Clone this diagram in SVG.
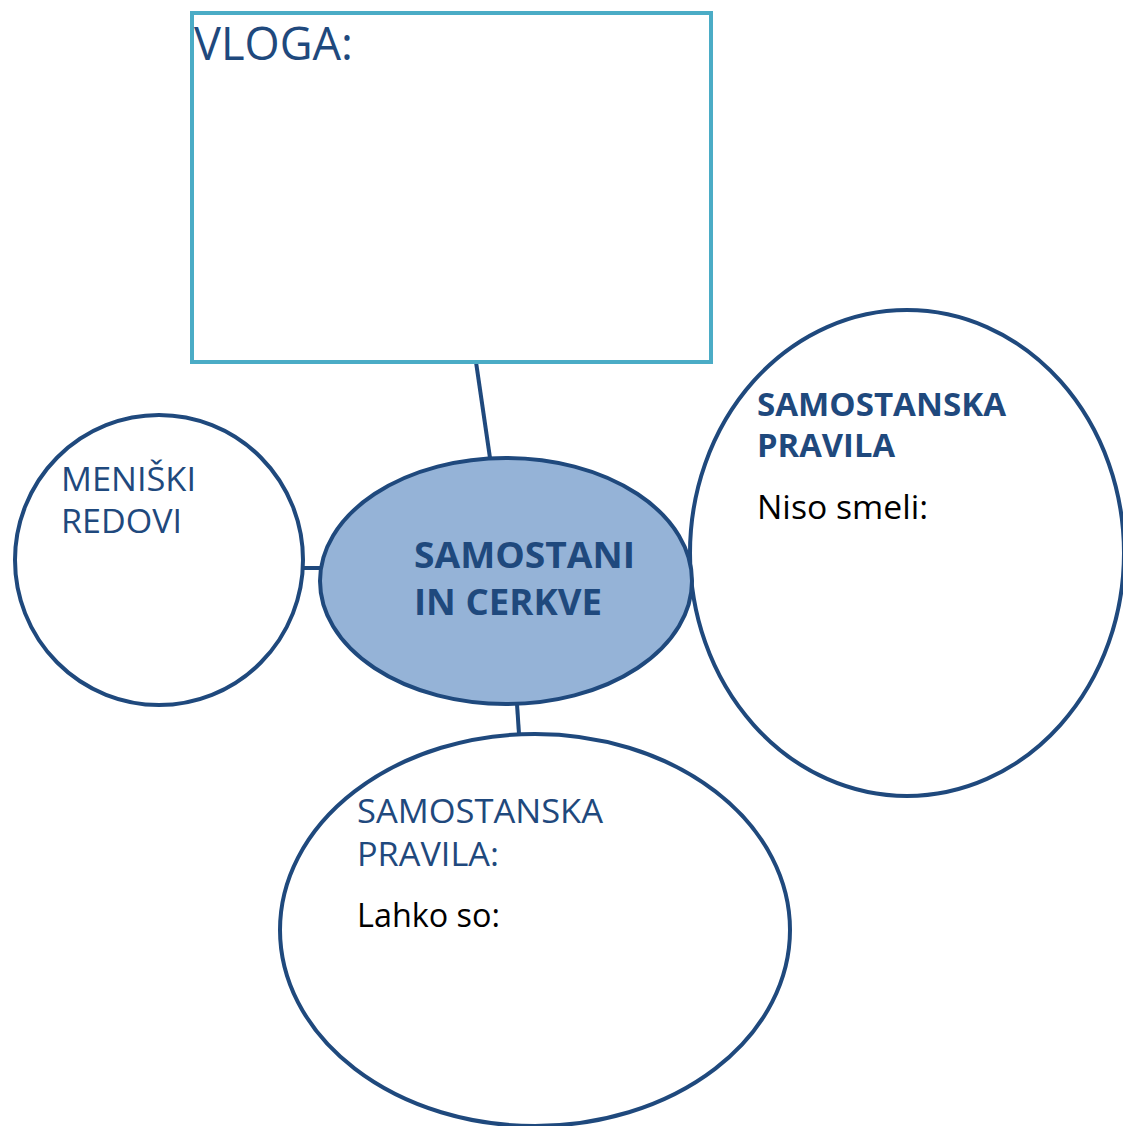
<svg xmlns="http://www.w3.org/2000/svg" width="1123" height="1126" viewBox="0 0 1123 1126">
<style>
.node{fill:#ffffff;stroke:#1F497D;stroke-width:4}
.conn{stroke:#1F497D;stroke-width:4;fill:none}
.t{font-family:"Open Sans","Noto Sans","Liberation Sans",sans-serif;fill:#1F497D}
.b{font-weight:bold}
.k{fill:#000000}
</style>
<rect width="1123" height="1126" fill="#ffffff"/>
<g id="connectors">
<line class="conn" x1="476" y1="362" x2="490" y2="458"/>
<line class="conn" x1="302" y1="568" x2="321" y2="568"/>
<line class="conn" x1="517" y1="704" x2="519" y2="734"/>
</g>
<g id="vloga">
<rect x="192" y="13" width="519" height="349" fill="#ffffff" stroke="#4BACC6" stroke-width="4"/>
<text class="t" x="194" y="60" font-size="45" textLength="159" lengthAdjust="spacingAndGlyphs">VLOGA:</text>
</g>
<g id="meniski">
<ellipse class="node" cx="159" cy="560" rx="144" ry="145"/>
<text class="t" x="61" y="491" font-size="33" textLength="135" lengthAdjust="spacingAndGlyphs">MENIŠKI</text>
<text class="t" x="61" y="533" font-size="33" textLength="121" lengthAdjust="spacingAndGlyphs">REDOVI</text>
</g>
<g id="pravila-right">
<ellipse class="node" cx="907" cy="553" rx="217" ry="243"/>
<text class="t b" x="757" y="416" font-size="33" textLength="249" lengthAdjust="spacingAndGlyphs">SAMOSTANSKA</text>
<text class="t b" x="757" y="457" font-size="33" textLength="138" lengthAdjust="spacingAndGlyphs">PRAVILA</text>
<text class="t k" x="757" y="519" font-size="33" textLength="171" lengthAdjust="spacingAndGlyphs">Niso smeli:</text>
</g>
<g id="pravila-bottom">
<ellipse class="node" cx="535" cy="930" rx="255" ry="196"/>
<text class="t" x="357" y="823" font-size="33" textLength="246" lengthAdjust="spacingAndGlyphs">SAMOSTANSKA</text>
<text class="t" x="357" y="866" font-size="33" textLength="142" lengthAdjust="spacingAndGlyphs">PRAVILA:</text>
<text class="t k" x="357" y="927" font-size="33" textLength="143" lengthAdjust="spacingAndGlyphs">Lahko so:</text>
</g>
<g id="center">
<ellipse cx="506" cy="581" rx="186" ry="123" fill="#95B3D7" stroke="#1F497D" stroke-width="4"/>
<text class="t b" x="414" y="568" font-size="36" textLength="221" lengthAdjust="spacingAndGlyphs">SAMOSTANI</text>
<text class="t b" x="414" y="615" font-size="36" textLength="188" lengthAdjust="spacingAndGlyphs">IN CERKVE</text>
</g>
</svg>
